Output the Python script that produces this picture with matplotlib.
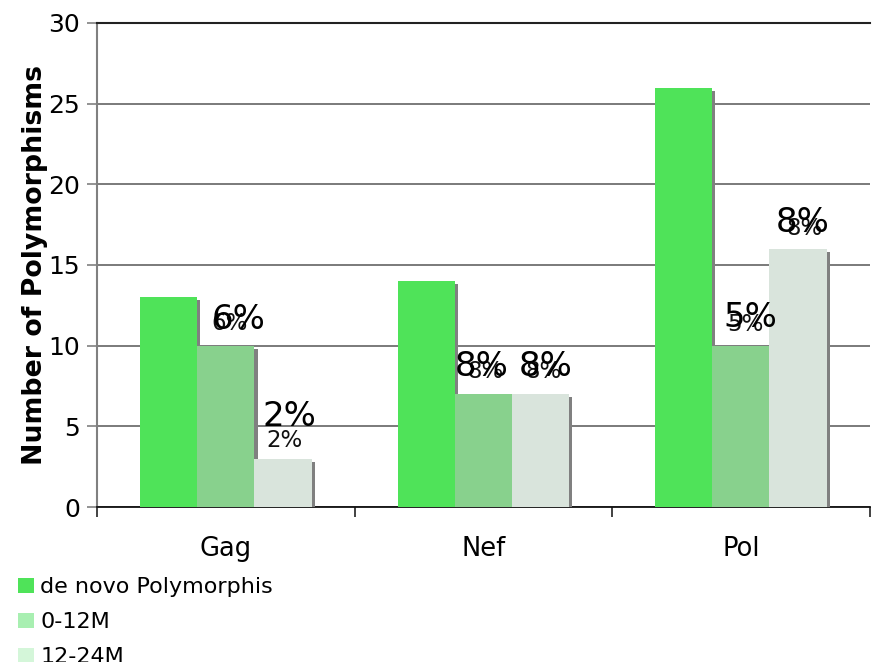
import matplotlib.pyplot as plt
import matplotlib.patheffects as pe
import matplotlib.patches as mpatches
import numpy as np

regions = ["Gag", "Nef", "Pol"]
series_names = ["de novo Polymorphis", "0-12M", "12-24M"]
counts = {
    "de novo Polymorphis": [13, 14, 26],
    "0-12M": [10, 7, 10],
    "12-24M": [3, 7, 16],
}
# percentage labels over the two follow-up series
pct_labels = {
    "0-12M": ["6%", "8%", "5%"],
    "12-24M": ["2%", "8%", "8%"],
}

bar_colors = ["#4fe359", "#88d18d", "#d9e4dc"]
legend_colors = ["#4fe359", "#a8efb1", "#d4f6d9"]

# text offsets in points (large label, small label) per series/region
big_offsets = {
    "0-12M": [(9, 19), (-1, 20), (7, 20)],
    "12-24M": [(5, 30), (4, 20), (3, 19)],
}
small_offsets = {
    "0-12M": [(3, 16), (2, 16), (3, 15)],
    "12-24M": [(1, 13), (2, 16), (5, 15)],
}

plt.rcParams["font.family"] = ["DejaVu Sans"]

fig = plt.figure(figsize=(8.77, 6.62), dpi=100)
ax = fig.add_axes([0.1106, 0.2341, 0.881, 0.7312])

x = np.arange(len(regions)) + 0.5
width = 0.222
shadow = [pe.SimplePatchShadow(offset=(2.3, -2.3), shadow_rgbFace="#808080", alpha=1.0),
          pe.Normal()]

for i, name in enumerate(series_names):
    pos = x + (i - 1) * width
    bars = ax.bar(pos, counts[name], width=width, color=bar_colors[i],
                  linewidth=0, zorder=3 + i)
    for b in bars:
        b.set_path_effects(shadow)
    if name in pct_labels:
        for j, txt in enumerate(pct_labels[name]):
            ax.annotate(txt, (pos[j], counts[name][j]), xytext=small_offsets[name][j],
                        textcoords="offset points", ha="center", va="center",
                        fontsize=16.5, color="#111111", zorder=10)
            ax.annotate(txt, (pos[j], counts[name][j]), xytext=big_offsets[name][j],
                        textcoords="offset points", ha="center", va="center",
                        fontsize=24.5, color="#000000", zorder=11)

ax.set_xlim(0, 3)
ax.set_ylim(0, 30)
ax.set_yticks(np.arange(0, 31, 5))
ax.yaxis.grid(True, color="#707070", linewidth=1.3, zorder=0)
ax.set_axisbelow(True)

ax.set_xticks([0, 1, 2, 3])
ax.set_xticklabels([])
ax.set_xticks(x, minor=True)
ax.set_xticklabels(regions, minor=True, fontsize=18.5)
ax.tick_params(axis="x", which="major", direction="out", length=7, width=1.2, color="#222222")
ax.tick_params(axis="x", which="minor", length=0, pad=21)
ax.tick_params(axis="y", direction="out", length=7, width=1.2, color="#808080",
               labelsize=18, pad=5)

ax.spines["right"].set_visible(False)
ax.spines["top"].set_color("#222222")
ax.spines["top"].set_linewidth(1.5)
ax.spines["left"].set_color("#808080")
ax.spines["left"].set_linewidth(1.5)
ax.spines["bottom"].set_color("#111111")
ax.spines["bottom"].set_linewidth(1.3)

ax.set_ylabel("Number of Polymorphisms", fontsize=19.3, fontweight="bold", labelpad=0)

handles = [mpatches.Patch(color=c, linewidth=0) for c in legend_colors]
fig.legend(handles, series_names, loc="upper left", bbox_to_anchor=(0.0205, 0.128),
           frameon=False, fontsize=16, handlelength=0.7, handleheight=0.7,
           handletextpad=0.3, labelspacing=0.68, borderaxespad=0, borderpad=0)

fig.savefig("out.png", dpi=100)
